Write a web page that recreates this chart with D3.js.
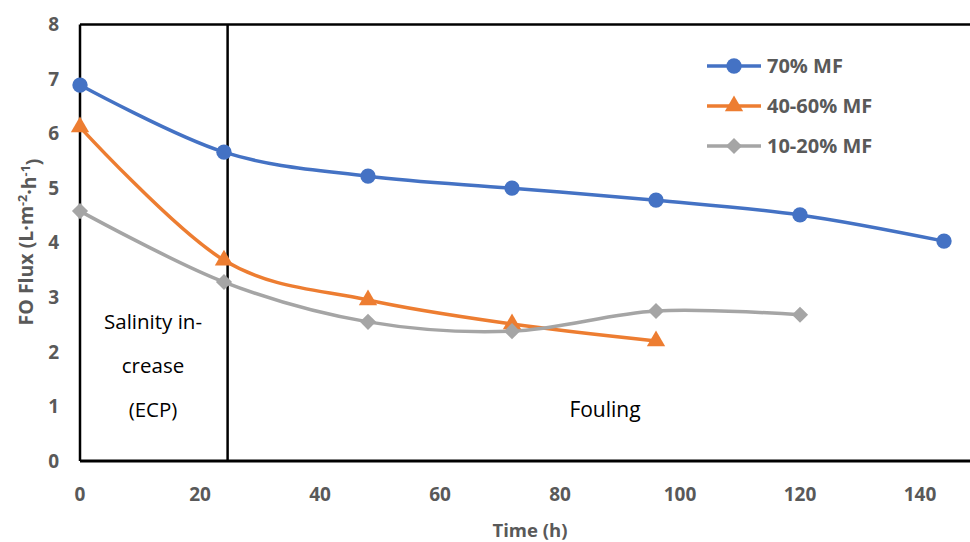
<!DOCTYPE html>
<html>
<head>
<meta charset="utf-8">
<script src="https://cdn.jsdelivr.net/npm/d3@7"></script>
<style>
  body { margin: 0; background: #fff; }
  text { font-family: "Open Sans", "Liberation Sans", sans-serif; }
</style>
</head>
<body>
<div id="chart"></div>
<script>
// Data
var hours = [0, 24, 48, 72, 96, 120, 144];
var mf70 = [6.89, 5.66, 5.22, 5.00, 4.78, 4.51, 4.03];
var mf4060 = [6.12, 3.68, 2.95, 2.51, 2.20];
var mf1020 = [4.58, 3.28, 2.55, 2.38, 2.75, 2.68];
var xTicks = [0, 20, 40, 60, 80, 100, 120, 140];
var yTicks = [0, 1, 2, 3, 4, 5, 6, 7, 8];
var seriesNames = ["70% MF", "40-60% MF", "10-20% MF"];
var seriesColors = ["#4472C4", "#ED7D31", "#A5A5A5"];
var seriesShapes = ["circle", "triangle", "diamond"];

var svgWidth = 970;
var svgHeight = 542;

var svg = d3.select("#chart")
  .append("svg")
  .attr("width", svgWidth)
  .attr("height", svgHeight);

// plot area runs off the right edge like in the reference
var xScale = d3.scaleLinear().domain([0, 148.33]).range([80, 970]);
var yScale = d3.scaleLinear().domain([0, 8]).range([461, 24.5]);

var series = [mf70, mf4060, mf1020].map(function(vals, i) {
  return {
    name: seriesNames[i],
    color: seriesColors[i],
    shape: seriesShapes[i],
    points: vals.map(function(v, j) { return { x: hours[j], y: v }; })
  };
});

// marker generator for each shape
function markerPath(shape) {
  if (shape === "circle") return d3.symbol().type(d3.symbolCircle).size(185)();
  if (shape === "triangle") return d3.symbol().type(d3.symbolTriangle).size(145)();
  return d3.symbol().type(d3.symbolSquare).size(130)();
}
function markerRotate(shape) {
  return shape === "diamond" ? " rotate(45)" : "";
}

// frame: top, left, bottom
svg.append("line")
  .attr("x1", xScale(0)).attr("x2", svgWidth)
  .attr("y1", yScale(8)).attr("y2", yScale(8))
  .attr("stroke", "#000").attr("stroke-width", 2.5);
svg.append("line")
  .attr("x1", xScale(0)).attr("x2", xScale(0))
  .attr("y1", yScale(8)).attr("y2", yScale(0))
  .attr("stroke", "#000").attr("stroke-width", 2.5);
svg.append("line")
  .attr("x1", xScale(0)).attr("x2", svgWidth)
  .attr("y1", yScale(0)).attr("y2", yScale(0))
  .attr("stroke", "#000").attr("stroke-width", 3);

// divider between the two phases
svg.append("line")
  .attr("x1", xScale(24.6)).attr("x2", xScale(24.6))
  .attr("y1", yScale(8)).attr("y2", yScale(0))
  .attr("stroke", "#000").attr("stroke-width", 2.5);

// tick labels
svg.append("g").selectAll("text")
  .data(yTicks)
  .enter()
  .append("text")
  .attr("x", 59)
  .attr("y", d => yScale(d))
  .attr("dy", "0.35em")
  .attr("text-anchor", "end")
  .attr("font-size", 19)
  .attr("font-weight", "bold")
  .attr("fill", "#595959")
  .text(d => d);

svg.append("g").selectAll("text")
  .data(xTicks)
  .enter()
  .append("text")
  .attr("x", d => xScale(d))
  .attr("y", 494)
  .attr("dy", "0.35em")
  .attr("text-anchor", "middle")
  .attr("font-size", 19)
  .attr("font-weight", "bold")
  .attr("fill", "#595959")
  .text(d => d);

// axis titles
svg.append("text")
  .attr("x", 530)
  .attr("y", 531)
  .attr("dy", "0.35em")
  .attr("text-anchor", "middle")
  .attr("font-size", 18.5)
  .attr("font-weight", "bold")
  .attr("fill", "#595959")
  .text("Time (h)");

var yTitle = svg.append("text")
  .attr("transform", "translate(26, 242) rotate(-90)")
  .attr("dy", "0.35em")
  .attr("text-anchor", "middle")
  .attr("font-size", 19.5)
  .attr("font-weight", "bold")
  .attr("fill", "#595959");
yTitle.append("tspan").text("FO Flux (L·m");
yTitle.append("tspan").attr("dy", "-0.5em").attr("font-size", 12.5).text("-2");
yTitle.append("tspan").attr("dy", "0.5em").text("·h");
yTitle.append("tspan").attr("dy", "-0.5em").attr("font-size", 12.5).text("-1");
yTitle.append("tspan").attr("dy", "0.5em").text(")");

// region labels
var regionLines = ["Salinity in-", "crease", "(ECP)"];
svg.append("g").selectAll("text")
  .data(regionLines)
  .enter()
  .append("text")
  .attr("x", 153)
  .attr("y", (d, i) => 322 + i * 44)
  .attr("dy", "0.35em")
  .attr("text-anchor", "middle")
  .attr("font-size", 20.5)
  .attr("fill", "#000")
  .text(d => d);

svg.append("text")
  .attr("x", 605)
  .attr("y", 410)
  .attr("dy", "0.35em")
  .attr("text-anchor", "middle")
  .attr("font-size", 21)
  .attr("fill", "#000")
  .text("Fouling");

// smoothed lines
var line = d3.line()
  .x(d => xScale(d.x))
  .y(d => yScale(d.y))
  .curve(d3.curveCardinal.tension(0));

series.forEach(function(s) {
  svg.append("path")
    .datum(s.points)
    .attr("fill", "none")
    .attr("stroke", s.color)
    .attr("stroke-width", 3.5)
    .attr("d", line);
});

series.forEach(function(s) {
  svg.append("g").selectAll("path")
    .data(s.points)
    .enter()
    .append("path")
    .attr("transform", d => `translate(${xScale(d.x)}, ${yScale(d.y)})` + markerRotate(s.shape))
    .attr("d", markerPath(s.shape))
    .attr("fill", s.color);
});

// legend
var legend = svg.append("g");
series.forEach(function(s, i) {
  var y = 66 + i * 40;
  legend.append("line")
    .attr("x1", 707).attr("x2", 761)
    .attr("y1", y).attr("y2", y)
    .attr("stroke", s.color)
    .attr("stroke-width", 3.5);
  legend.append("path")
    .attr("transform", `translate(734, ${y})` + markerRotate(s.shape))
    .attr("d", markerPath(s.shape))
    .attr("fill", s.color);
  legend.append("text")
    .attr("x", 767)
    .attr("y", y)
    .attr("dy", "0.35em")
    .attr("font-size", 20)
    .attr("font-weight", "bold")
    .attr("fill", "#595959")
    .text(s.name);
});
</script>
</body>
</html>
